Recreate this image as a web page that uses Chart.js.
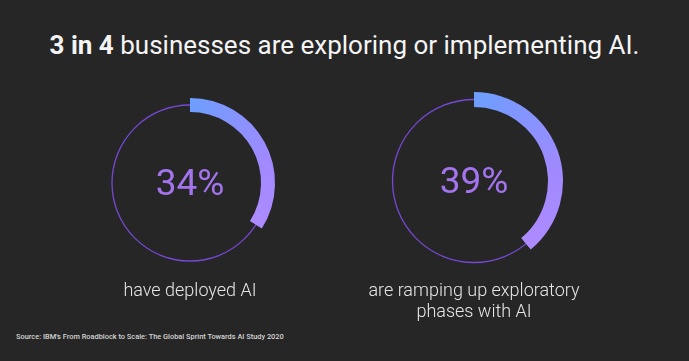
<!DOCTYPE html>
<html>
<head>
<meta charset="utf-8">
<script src="https://cdn.jsdelivr.net/npm/chart.js@4"></script>
<style>
  html, body { margin: 0; padding: 0; }
  body { width: 689px; height: 361px; background: #262626; position: relative; overflow: hidden; font-family: Roboto, sans-serif; }
  #title { position: absolute; left: 0; width: 689px; top: 30px; text-align: center; color: #f4f4f4; font-size: 26px; }
  #title b { font-weight: 700; }
  .cap { position: absolute; width: 300px; text-align: center; color: #e6e6e6; font-size: 18px; font-weight: 300; line-height: 21px; }
  #source { position: absolute; left: 16px; top: 332px; color: #d8d8d8; font-size: 7.4px; font-weight: 500; opacity: 0.99; }
  canvas { position: absolute; }
</style>
</head>
<body>
<div id="title"><b>3 in 4</b> businesses are exploring or implementing AI.</div>
<canvas id="ring0" width="200" height="200" style="left:90px;top:83px"></canvas>
<canvas id="ring1" width="200" height="200" style="left:374px;top:81px"></canvas>
<div class="cap" id="cap0" style="left:40px;top:279px"></div>
<div class="cap" id="cap1" style="left:324px;top:279px"></div>
<div id="source">Source: IBM's From Roadblock to Scale: The Global Sprint Towards AI Study 2020</div>
<script>
// =============================
// Data
// =============================

const percentValues = [34, 39];
const captions = [['have deployed AI'], ['are ramping up exploratory', 'phases with AI']];

// ring sizes (outer radius, inner radius) in px
const ringOuter = [85, 89];
const ringInner = [71, 74];

// =============================
// Plugins
// =============================

// thin full circle through the middle of the thick arc
const thinCircle = {
    id: 'thinCircle',
    beforeDatasetsDraw(chart) {
        const arc = chart.getDatasetMeta(0).data[0];
        if (!arc) return;
        const r = (arc.innerRadius + arc.outerRadius) / 2;
        const ctx = chart.ctx;
        ctx.save();
        ctx.beginPath();
        ctx.arc(arc.x, arc.y, r, 0, Math.PI * 2);
        ctx.strokeStyle = '#7549d4';
        ctx.lineWidth = 1.3;
        ctx.stroke();
        ctx.restore();
    }
};

const centerText = {
    id: 'centerText',
    afterDraw(chart) {
        const arc = chart.getDatasetMeta(0).data[0];
        if (!arc) return;
        const ctx = chart.ctx;
        ctx.save();
        ctx.fillStyle = '#a374ee';
        ctx.font = '37px Roboto';
        ctx.textAlign = 'center';
        ctx.textBaseline = 'middle';
        ctx.fillText(chart.data.datasets[0].data[0] + '%', arc.x, arc.y + 3);
        ctx.restore();
    }
};

function arcColor(context, value) {
    if (context.dataIndex !== 0) return 'rgba(0,0,0,0)';
    const chart = context.chart;
    const area = chart.chartArea;
    if (!area) return '#8f8fff';
    const cx = (area.left + area.right) / 2;
    const cy = (area.top + area.bottom) / 2;
    const g = chart.ctx.createConicGradient(-Math.PI / 2, cx, cy);
    g.addColorStop(0, '#6d9eff');
    g.addColorStop(value / 100 * 0.6, '#a189ff');
    g.addColorStop(value / 100, '#ae8bff');
    g.addColorStop(1, '#ae8bff');
    return g;
}

function createRing(canvasId, i) {
    const value = percentValues[i];
    return new Chart(document.getElementById(canvasId), {
        type: 'doughnut',
        data: {
            labels: ['value', 'rest'],
            datasets: [{
                data: [value, 100 - value],
                backgroundColor: (ctx) => arcColor(ctx, value),
                borderWidth: 0
            }]
        },
        options: {
            responsive: false,
            animation: false,
            radius: ringOuter[i],
            cutout: (ringInner[i] / ringOuter[i] * 100) + '%',
            layout: { padding: 0 },
            plugins: {
                legend: { display: false },
                tooltip: { enabled: false }
            }
        },
        plugins: [thinCircle, centerText]
    });
}

createRing('ring0', 0);
createRing('ring1', 1);

captions.forEach((lines, i) => {
    document.getElementById('cap' + i).innerHTML = lines.join('<br>');
});
</script>
</body>
</html>
